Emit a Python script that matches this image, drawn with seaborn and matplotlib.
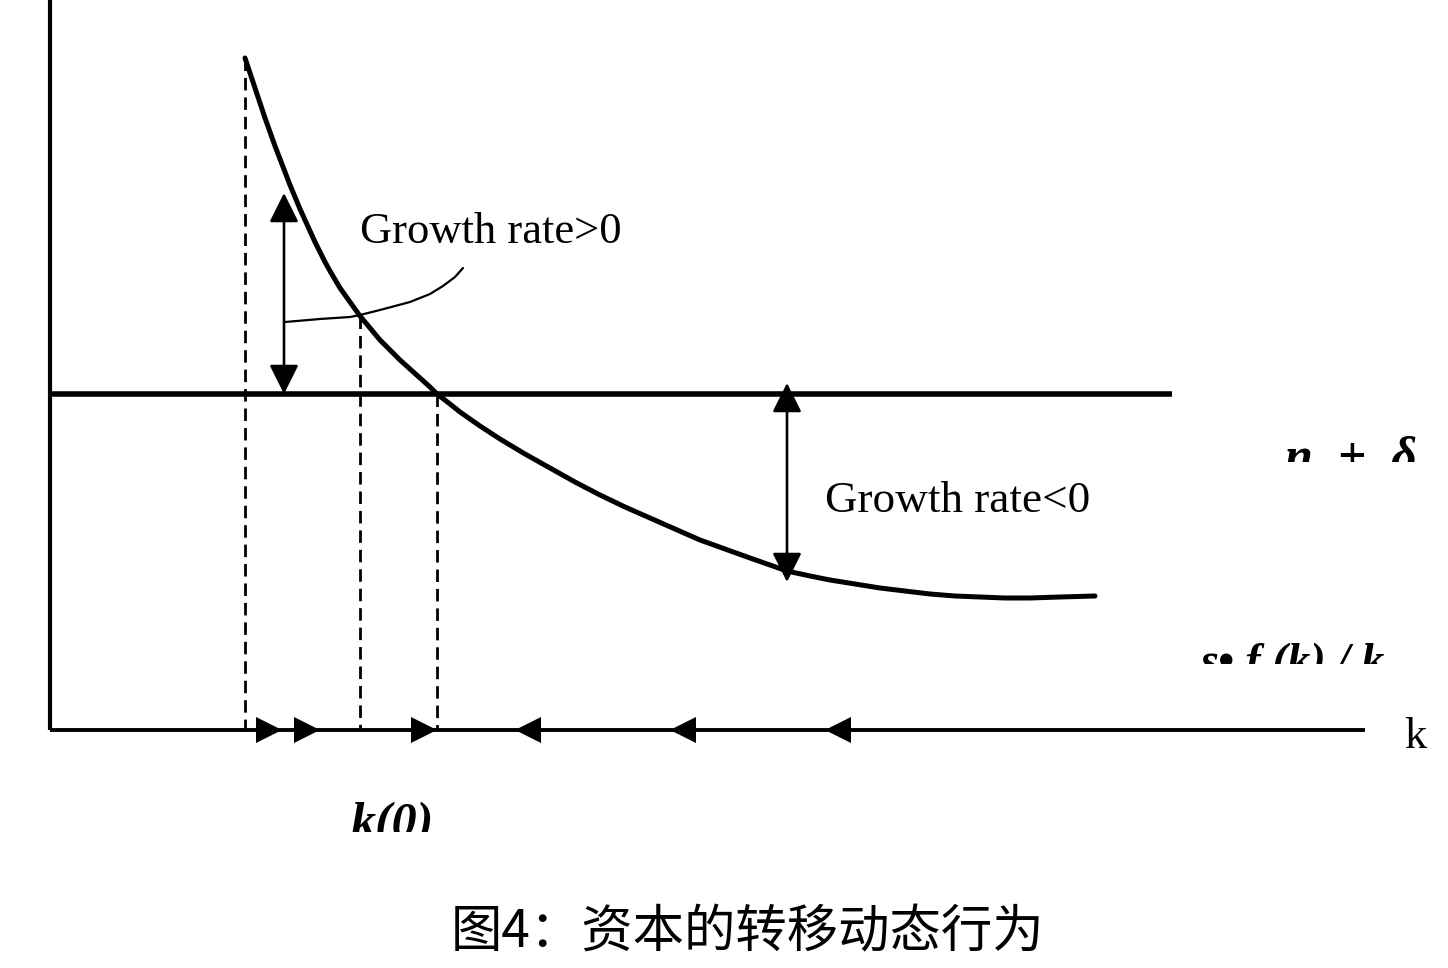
import matplotlib
matplotlib.use("Agg")
import matplotlib.pyplot as plt
from matplotlib.transforms import Bbox, TransformedBbox
import seaborn as sns
import pandas as pd

# ---------------- data (diagram coordinates, y grows downward) ----------------
curve_k = [245, 250, 255, 260, 265, 270, 275, 280, 285, 290, 295, 300, 305, 310, 315,
           320, 325, 330, 340, 350, 360, 370, 380, 390, 400, 410, 420, 430,
           437, 450, 460, 480, 500, 525, 550, 575, 600, 625, 650, 675, 700, 725,
           750, 770, 787, 810, 830, 855, 880, 905, 930, 955, 980, 1005, 1030, 1060, 1095]
curve_v = [58, 73, 88, 103, 118, 132, 146, 159, 172, 185, 197, 209, 220, 231, 242,
           252, 262, 271, 288, 302, 316, 328, 340, 350, 360, 369, 378, 387,
           394, 404, 412, 426, 439, 454, 468, 482, 495, 507, 518, 529, 540, 549,
           558, 565, 571, 576, 580, 584, 588, 591, 594, 596, 597, 598, 598, 597, 596]

pointer_k = [285, 320, 350, 360, 380, 410, 430, 443, 455, 463]
pointer_v = [322, 319, 317, 315, 310, 302, 294, 286, 277, 268]

n_delta_level = 394
n_delta_span = [50, 1172]
k_axis_level = 730
k_axis_span = [50, 1365]
v_axis_x = 50
v_axis_span = [0, 730]

dashed_k = [245, 360, 437]
dashed_top = [58, 316, 394]

right_arrow_tips = [282, 320, 437]
left_arrow_tips = [515, 670, 825]

gr_pos_arrow = (284, 193, 394)   # x, top, bottom
gr_neg_arrow = (787, 383, 582)

labels = {
    "gr_pos": "Growth rate>0",
    "gr_neg": "Growth rate<0",
    "k": "k",
    "n_delta": "n  +  δ",
    "sfk": "s• f (k) / k",
    "k0": "k(0)",
    "caption": "图4：资本的转移动态行为",
}

# ---------------- figure ----------------
sns.set_theme(style="white")
plt.rcParams['font.family'] = ['Liberation Serif', 'DejaVu Serif']

fig = plt.figure(figsize=(14.48, 9.68), dpi=100)
ax = fig.add_axes([0, 0, 1, 1])
ax.set_xlim(0, 1448)
ax.set_ylim(968, 0)
ax.axis("off")

# main curve s f(k)/k
df_curve = pd.DataFrame({"k": curve_k, "v": curve_v})
sns.lineplot(data=df_curve, x="k", y="v", ax=ax, sort=False, estimator=None,
             color="black", linewidth=3.6)

# thin pointer curve
df_ptr = pd.DataFrame({"k": pointer_k, "v": pointer_v})
sns.lineplot(data=df_ptr, x="k", y="v", ax=ax, sort=False, estimator=None,
             color="black", linewidth=1.6)

# axes lines
ax.plot([v_axis_x, v_axis_x], v_axis_span, color="black", lw=3.0, solid_capstyle="butt")
ax.plot(k_axis_span, [k_axis_level, k_axis_level], color="black", lw=2.8, solid_capstyle="butt")
# n + delta line
ax.plot(n_delta_span, [n_delta_level, n_delta_level], color="black", lw=4.0, solid_capstyle="butt")

# dashed verticals
for xk, top in zip(dashed_k, dashed_top):
    ax.plot([xk, xk], [top, k_axis_level], color="black", lw=2.0, dashes=(4.5, 2.5))

# direction arrows on k-axis (filled triangles)
half = 13
ax.plot([t - half for t in right_arrow_tips], [k_axis_level] * len(right_arrow_tips),
        linestyle="none", marker=">", markersize=19, color="black", markeredgewidth=0)
ax.plot([t + half for t in left_arrow_tips], [k_axis_level] * len(left_arrow_tips),
        linestyle="none", marker="<", markersize=19, color="black", markeredgewidth=0)

# double-headed arrows
for (xa, top, bot) in (gr_pos_arrow, gr_neg_arrow):
    ax.annotate("", xy=(xa, top), xytext=(xa, bot),
                arrowprops=dict(arrowstyle="<|-|>,head_length=1.0,head_width=0.5",
                                mutation_scale=18, lw=1.9, color="black",
                                shrinkA=0, shrinkB=0))


def clip_text(t, x0, y0, x1, y1):
    t.set_clip_on(True)
    t.set_clip_box(TransformedBbox(Bbox.from_extents(x0, y0, x1, y1), ax.transData))


# texts
ax.text(360, 243, labels["gr_pos"], fontsize=32, ha="left", va="baseline", color="black")
ax.text(825, 512, labels["gr_neg"], fontsize=32.5, ha="left", va="baseline", color="black")
ax.text(1404, 748, labels["k"], fontsize=32, ha="left", va="baseline", color="black")

t1 = ax.text(1285, 471, labels["n_delta"], fontsize=36, ha="left", va="baseline",
             style="italic", weight="bold", color="black")
clip_text(t1, 1150, 380, 1448, 462)

t2 = ax.text(1200, 675, labels["sfk"], fontsize=33, ha="left", va="baseline",
             style="italic", weight="bold", color="black")
clip_text(t2, 1150, 600, 1448, 664)

t3 = ax.text(350, 837, labels["k0"], fontsize=36, ha="left", va="baseline",
             style="italic", weight="bold", color="black")
clip_text(t3, 300, 770, 500, 832)

ax.text(748, 933, labels["caption"], fontsize=37, ha="center", va="center",
        family=["Noto Sans CJK SC", "DejaVu Sans"], color="black")

fig.savefig("out.png", dpi=100, facecolor="white")
